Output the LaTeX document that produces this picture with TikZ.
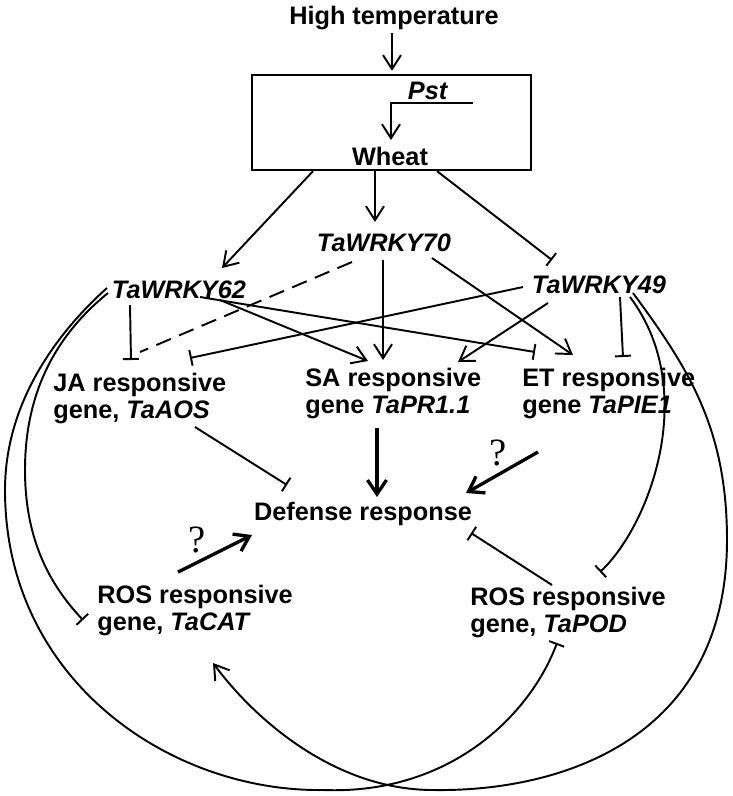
\documentclass[tikz,border=0pt]{standalone}
\usepackage{fontspec}
\setmainfont{Liberation Sans}
\newfontfamily\qfont{Liberation Serif}
\usetikzlibrary{arrows.meta,calc}
\tikzset{
    lbl/.style={font=\fontsize{14.4}{15.4}\selectfont\bfseries, inner sep=0pt, align=left},
    qm/.style={font=\qfont\fontsize{22}{22}\selectfont, inner sep=0pt},
    act/.style={line width=1.1pt, -{Straight Barb[length=2.8mm,width=3.6mm]}},
    inh/.style={line width=1.1pt, -{Bar[width=3.2mm]}},
    bigact/.style={line width=1.9pt, -{Straight Barb[length=2.8mm,width=3.8mm]}},
}

\begin{document}
\begin{tikzpicture}[x=0.02cm, y=-0.02cm]
        \useasboundingbox (0,0) rectangle (733,796);
        % Nodes
        \node[lbl, anchor=north] (ht) at (394,6) {High temperature};
        \node[draw, line width=1.3pt, minimum width=5.58cm, minimum height=1.9cm] (box) at (391.5,122.5) {};
        \node[lbl, anchor=north] (pst) at (428,82) {\textit{Pst}};
        \node[lbl, anchor=north] (wheat) at (390,147) {Wheat};
        \node[lbl, anchor=north] (w70) at (384,233) {\textit{TaWRKY70}};
        \node[lbl, anchor=north] (w62) at (179,280) {\textit{TaWRKY62}};
        \node[lbl, anchor=north] (w49) at (599,275) {\textit{TaWRKY49}};
        \node[lbl, anchor=north west] (ja) at (53,373) {JA responsive\\gene, \textit{TaAOS}};
        \node[lbl, anchor=north west] (sa) at (305,368) {SA responsive\\gene \textit{TaPR1.1}};
        \node[lbl, anchor=north west] (et) at (522,368) {ET responsive\\gene \textit{TaPIE1}};
        \node[lbl, anchor=north] (def) at (363,502) {Defense response};
        \node[lbl, anchor=north west] (cat) at (97,585) {ROS responsive\\gene, \textit{TaCAT}};
        \node[lbl, anchor=north west] (pod) at (470,587) {ROS responsive\\gene, \textit{TaPOD}};
        \node[qm] (q1) at (498,453) {?};
        \node[qm] (q2) at (197,540) {?};
        % Top part
        \draw[act] ($(ht.north)+(-2,27)$) -- ($(box.north)+(0.5,-3)$);
        \draw[act] ($(pst.north)+(45,21)$) -| ($(wheat.north)+(1,-7)$);
        \draw[act] ($(box.south)+(-78.5,0)$) -- ($(w62.north)+(43,-12)$);
        \draw[act] ($(box.south)+(-16.5,0)$) -- ($(w70.north)+(-9,-11)$);
        \draw[inh] ($(box.south)+(45.5,0)$) -- ($(w49.north)+(-47,-15)$);
        % WRKY to responsive genes
        \draw[line width=1.1pt, dashed, dash pattern=on 9pt off 5pt] ($(w70.north)+(-32,29)$) -- ($(ja.north west)+(87,-21)$);
        \draw[inh] ($(w62.north)+(-49,25)$) -- ($(ja.north west)+(78,-13)$);
        \draw[inh] ($(w49.north)+(-76,12)$) -- ($(ja.north west)+(137,-15)$);
        \draw[act] ($(w62.north)+(41,20)$) -- ($(sa.north west)+(63,-7)$);
        \draw[inh] ($(w62.north)+(21,17)$) -- ($(et.north west)+(13,-16)$);
        \draw[act] ($(w70.north)+(-1,27)$) -- ($(sa.north west)+(78,-8)$);
        \draw[act] ($(w70.north)+(48,25)$) -- ($(et.north west)+(51,-13)$);
        \draw[act] ($(w49.north)+(-51,28)$) -- ($(sa.north west)+(153,-6)$);
        \draw[inh] ($(w49.north)+(21,22)$) -- ($(et.north west)+(101,-11)$);
        % Long curves
        \draw[inh] ($(w49.north)+(31,22)$) .. controls (700,390) and (650,525) .. ($(pod.north west)+(130,-15)$);
        \draw[act] ($(w49.north)+(34,18)$) .. controls (690,370) and (727,430) .. (727,540)
            .. controls (727,740) and (560,792) .. (433,790)
            .. controls (340,790) and (260,726) .. ($(cat.north west)+(116,78)$);
        \draw[inh] ($(w62.north)+(-72,8)$) .. controls (60,330) and (5,400) .. (5,490)
            .. controls (5,680) and (170,792) .. (323,790)
            .. controls (450,795) and (530,715) .. ($(pod.north west)+(87,56)$);
        \draw[inh] ($(w62.north)+(-71,13)$) .. controls (50,340) and (25,400) .. (25,470)
            .. controls (25,540) and (50,585) .. ($(cat.north west)+(-14,35)$);
        % Towards defense response
        \draw[inh] ($(ja.north west)+(142,54)$) -- ($(def.north)+(-76,-17)$);
        \draw[bigact] ($(sa.north west)+(72,60)$) -- ($(def.north)+(14,-5)$);
        \draw[bigact] ($(et.north west)+(16,84)$) -- ($(def.north)+(103,-9)$);
        \draw[bigact] ($(cat.north west)+(81,-13)$) -- ($(def.north)+(-111,33)$);
        \draw[inh] ($(pod.north west)+(82,-2)$) -- ($(def.north)+(108,31)$);
\end{tikzpicture}
\end{document}
